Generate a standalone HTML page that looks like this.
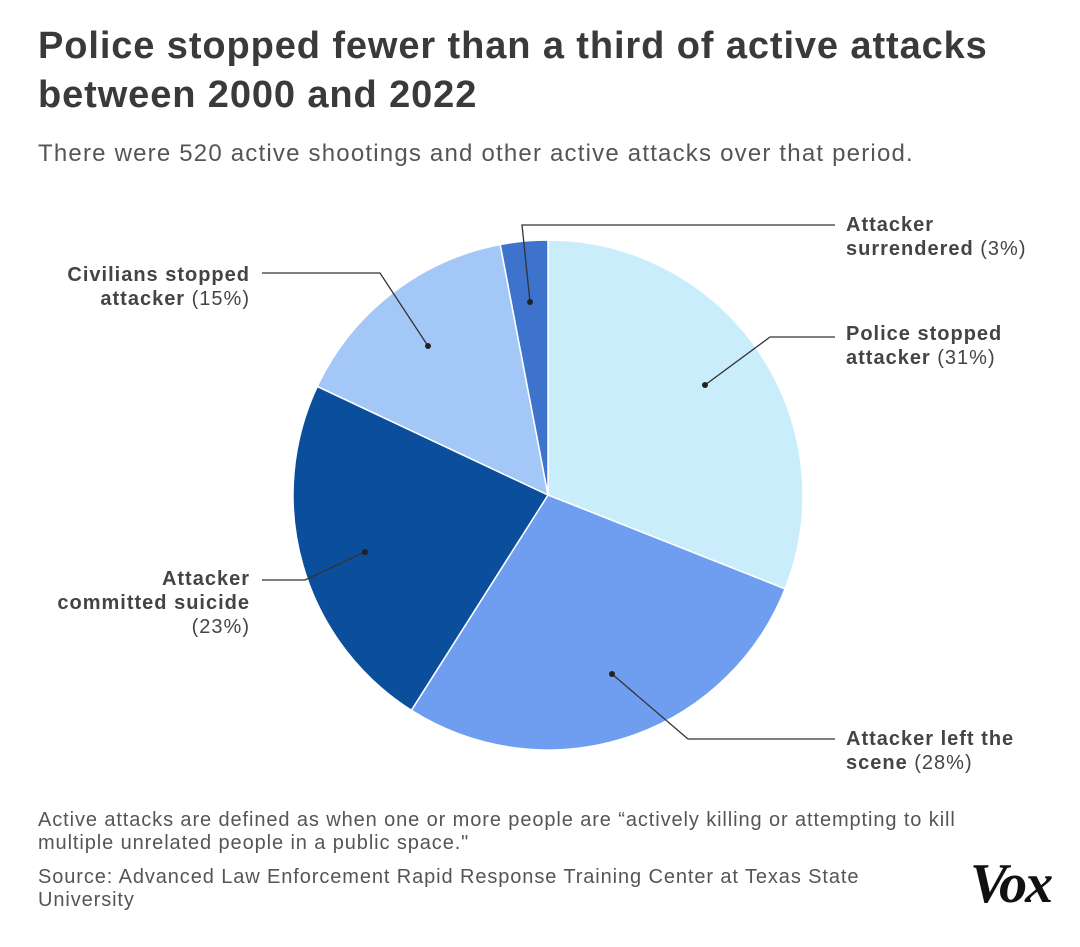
<!DOCTYPE html>
<html><head><meta charset="utf-8"><style>
body{margin:0;width:1080px;height:947px;background:#fff;overflow:hidden;font-family:"Liberation Sans",sans-serif;color:#333}
.t{position:absolute;left:38px;top:22px;font-size:38px;font-weight:bold;line-height:49px;color:#3a3a3a;letter-spacing:0.9px}
.s{position:absolute;left:38px;top:140px;font-size:24px;color:#555;letter-spacing:1.2px}
.f{position:absolute;left:38px;font-size:20px;color:#555;line-height:23px;letter-spacing:0.9px}
.lab{position:absolute;font-size:20px;line-height:24px;color:#444;letter-spacing:1px}
.lab b{color:#444}
.vox{position:absolute;left:970px;top:852px;font-family:"Liberation Serif",serif;font-style:italic;font-weight:bold;font-size:56px;color:#111;letter-spacing:-2px}
</style></head><body>
<div class="t">Police stopped fewer than a third of active attacks<br>between 2000 and 2022</div>
<div class="s">There were 520 active shootings and other active attacks over that period.</div>
<svg id="pie" width="1080" height="947" style="position:absolute;left:0;top:0"></svg>
<div class="lab" style="left:846px;top:213px"><b>Attacker<br>surrendered</b> (3%)</div>
<div class="lab" style="left:846px;top:322px"><b>Police stopped<br>attacker</b> (31%)</div>
<div class="lab" style="left:846px;top:727px"><b>Attacker left the<br>scene</b> (28%)</div>
<div class="lab" style="right:830px;top:567px;text-align:right"><b>Attacker<br>committed suicide</b><br>(23%)</div>
<div class="lab" style="right:830px;top:263px;text-align:right"><b>Civilians stopped<br>attacker</b> (15%)</div>
<div class="f" style="top:809px">Active attacks are defined as when one or more people are “actively killing or attempting to kill<br>multiple unrelated people in a public space."</div>
<div class="f" style="top:866px">Source: Advanced Law Enforcement Rapid Response Training Center at Texas State<br>University</div>
<div class="vox">Vox</div>
<script>
const categories=["Police stopped attacker","Attacker left the scene","Attacker committed suicide","Civilians stopped attacker","Attacker surrendered"];
const values=[31,28,23,15,3];
const colors=["#c9edfb","#6f9ef0","#0b4f9c","#a3c8f8","#3d73cc"];
const cx=548,cy=495,r=255;
const dots=[[705,385],[612,674],[365,552],[428,346],[530,302]];
const elbows=[[[770,337],[835,337]],[[688,739],[835,739]],[[305,580],[262,580]],[[380,273],[262,273]],[[522,225],[835,225]]];
const svg=document.getElementById('pie');const NS="http://www.w3.org/2000/svg";
const total=values.reduce((a,b)=>a+b,0);
let a0=0;
values.forEach((v,i)=>{
 const a1=a0+v/total*2*Math.PI;
 const p=(a)=>[cx+r*Math.sin(a),cy-r*Math.cos(a)];
 const [x0,y0]=p(a0),[x1,y1]=p(a1);
 const path=document.createElementNS(NS,'path');
 path.setAttribute('d',`M${cx},${cy}L${x0},${y0}A${r},${r} 0 ${a1-a0>Math.PI?1:0} 1 ${x1},${y1}Z`);
 path.setAttribute('fill',colors[i]);path.setAttribute('stroke','#fff');path.setAttribute('stroke-width','1.5');
 
 
 svg.appendChild(path);
 a0=a1;
});
dots.forEach((d,i)=>{
 const pl=document.createElementNS(NS,'polyline');
 pl.setAttribute('points',[d,...elbows[i]].map(q=>q.join(',')).join(' '));
 pl.setAttribute('fill','none');pl.setAttribute('stroke','#333');pl.setAttribute('stroke-width','1.3');
 
 
 svg.appendChild(pl);
 const c=document.createElementNS(NS,'circle');
 c.setAttribute('cx',d[0]);c.setAttribute('cy',d[1]);c.setAttribute('r',3);c.setAttribute('fill','#222');
 
 
 svg.appendChild(c);
});
</script>
</body></html>
